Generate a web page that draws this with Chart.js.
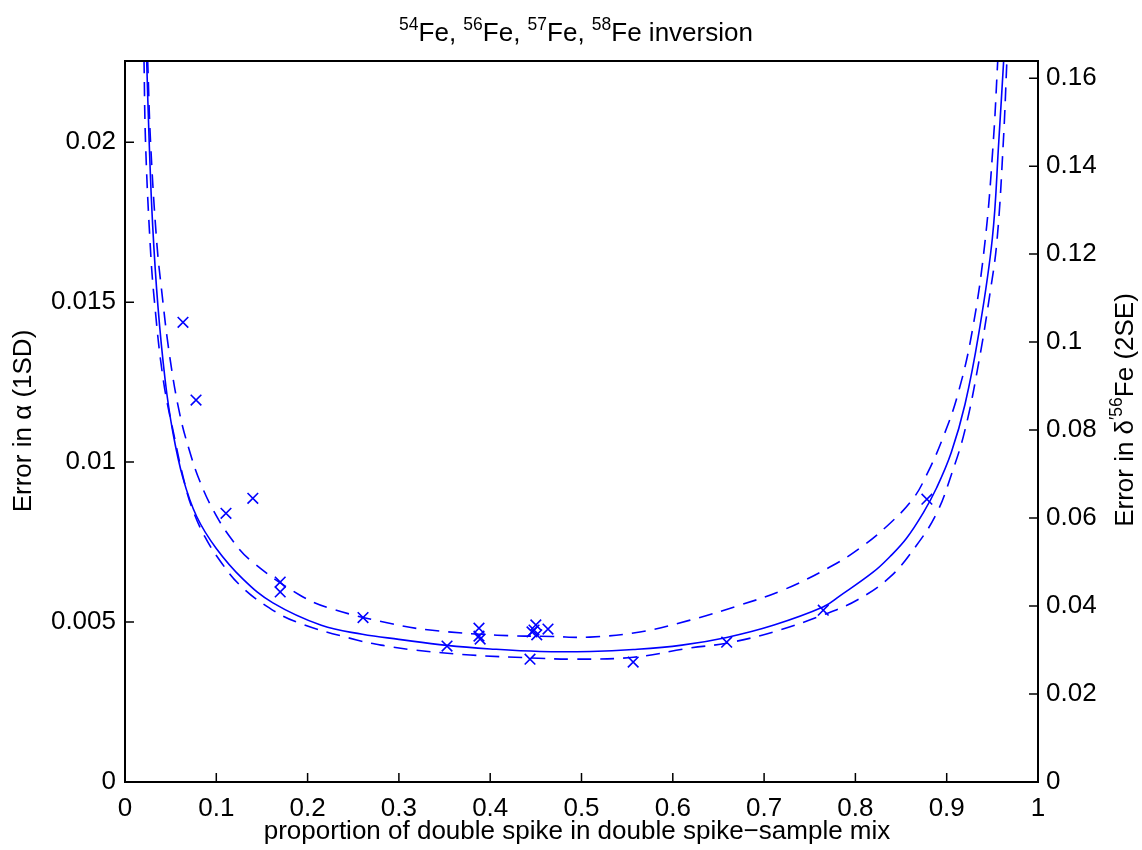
<!DOCTYPE html>
<html>
<head>
<meta charset="utf-8">
<script src="https://cdn.jsdelivr.net/npm/chart.js@4.4.1/dist/chart.umd.min.js"></script>
<style>
html, body { margin: 0; background: #fff; }
</style>
</head>
<body>
<canvas id="ironChart" width="1142" height="850"></canvas>
<script>
// tick values
var xTicks = [0, 0.1, 0.2, 0.3, 0.4, 0.5, 0.6, 0.7, 0.8, 0.9, 1];
var alphaTicks = [0, 0.005, 0.01, 0.015, 0.02];
var deltaTicks = [0, 0.02, 0.04, 0.06, 0.08, 0.1, 0.12, 0.14, 0.16];
var alphaMax = 0.02254;
var deltaMax = 0.1639;

// measured points (x marks)
var measP = [0.0635, 0.0778, 0.1106, 0.140, 0.170, 0.170, 0.2607, 0.3527, 0.3877, 0.3877, 0.3890,
             0.4436, 0.4458, 0.4500, 0.4510, 0.4480, 0.4633, 0.5566, 0.659, 0.7648, 0.8783];
var measErr = [0.01437, 0.01194, 0.0084, 0.00887, 0.00625, 0.00594, 0.00514, 0.00425, 0.00481, 0.00456, 0.00447,
               0.00384, 0.00469, 0.00491, 0.00460, 0.00475, 0.00478, 0.00375, 0.00437, 0.00537, 0.00884];

// predicted error (solid)
var fitP = [0.0237, 0.0265, 0.0303, 0.036, 0.044, 0.052, 0.0635, 0.0785, 0.100, 0.129, 0.162,
            0.215, 0.26, 0.30, 0.3527, 0.40, 0.4545, 0.51, 0.5566, 0.61, 0.659, 0.71, 0.7645,
            0.783, 0.819, 0.838, 0.856, 0.874, 0.889, 0.905, 0.92, 0.935, 0.95, 0.957, 0.9625];
var fitErr = [0.0226, 0.0200, 0.0174, 0.0149, 0.01256, 0.0110, 0.0095, 0.0083, 0.0073, 0.00635, 0.0056,
              0.0049, 0.00462, 0.00446, 0.00427, 0.00416, 0.00408, 0.00408, 0.00414, 0.00428, 0.00452, 0.0049, 0.00547,
              0.00582, 0.00655, 0.00705, 0.00762, 0.0084, 0.0092, 0.0103, 0.0118, 0.0140, 0.0170, 0.0200, 0.0226];

// upper bound (dashed)
var upP = [0.0248, 0.028, 0.0347, 0.040, 0.049, 0.060, 0.0712, 0.082, 0.0966, 0.115, 0.137, 0.1917,
           0.228, 0.2935, 0.334, 0.4075, 0.468, 0.509, 0.564, 0.619, 0.6736, 0.7207, 0.772, 0.805,
           0.838, 0.863, 0.878, 0.895, 0.912, 0.928, 0.942, 0.951, 0.956];
var upErr = [0.0226, 0.0200, 0.0169, 0.0154, 0.0133, 0.0115, 0.0103, 0.0094, 0.0085, 0.00766, 0.00694, 0.00584,
             0.0054, 0.00494, 0.00475, 0.00459, 0.00455, 0.00453, 0.00469, 0.00506, 0.00553, 0.006, 0.00672, 0.00731,
             0.00809, 0.00885, 0.0096, 0.0107, 0.0121, 0.0141, 0.0169, 0.0200, 0.0226];

// lower bound (dashed)
var loP = [0.0208, 0.0225, 0.0274, 0.0320, 0.042, 0.0548, 0.0637, 0.073, 0.0876, 0.106, 0.126, 0.155,
           0.188, 0.2537, 0.2866, 0.316, 0.378, 0.444, 0.491, 0.5566, 0.619, 0.659, 0.71, 0.7645,
           0.802, 0.838, 0.867, 0.889, 0.905, 0.92, 0.935, 0.947, 0.955, 0.962, 0.966];
var loErr = [0.0226, 0.0200, 0.0169, 0.0151, 0.01256, 0.01069, 0.00953, 0.0086, 0.00766, 0.00684, 0.00615, 0.0055,
             0.005, 0.00444, 0.00425, 0.00413, 0.00397, 0.00388, 0.00384, 0.0039, 0.00419, 0.00434, 0.00469, 0.00522,
             0.00569, 0.00641, 0.0074, 0.0084, 0.0096, 0.0110, 0.0131, 0.0152, 0.0169, 0.0200, 0.0226];

var FONT = '"Liberation Sans", Arial, Helvetica, sans-serif';
var BLUE = '#0000ff';

function pts(xs, ys) {
  return xs.map(function (x, i) { return { x: x, y: ys[i] }; });
}
function fmt(v) {
  return String(+(+v).toFixed(4));
}
function fixTicks(list) {
  return function (scale) { scale.ticks = list.map(function (v) { return { value: v }; }); };
}

// draws text with superscript parts, centred on (cx, baseline) and optionally rotated
function drawRich(ctx, parts, cx, baseY, rot) {
  var main = '26px ' + FONT, sup = '17.5px ' + FONT;
  var w = 0;
  parts.forEach(function (p) {
    ctx.font = p[1] ? sup : main;
    w += ctx.measureText(p[0]).width;
  });
  ctx.save();
  ctx.translate(cx, baseY);
  ctx.rotate(rot || 0);
  ctx.fillStyle = '#000';
  ctx.textBaseline = 'alphabetic';
  ctx.textAlign = 'left';
  var x = -w / 2;
  parts.forEach(function (p) {
    ctx.font = p[1] ? sup : main;
    ctx.fillText(p[0], x, p[1] ? -11 : 0);
    x += ctx.measureText(p[0]).width;
  });
  ctx.restore();
}

var framePlugin = {
  id: 'frame',
  afterDraw: function (chart) {
    var ctx = chart.ctx, a = chart.chartArea;
    var sx = chart.scales.x, sy = chart.scales.y, sy2 = chart.scales.y2;
    ctx.save();
    ctx.strokeStyle = '#000';
    ctx.lineWidth = 2;
    ctx.strokeRect(a.left, a.top, a.right - a.left, a.bottom - a.top);
    ctx.lineWidth = 1.5;
    ctx.beginPath();
    xTicks.forEach(function (v) {
      var px = sx.getPixelForValue(v);
      ctx.moveTo(px, a.bottom); ctx.lineTo(px, a.bottom - 9);
    });
    alphaTicks.forEach(function (v) {
      var py = sy.getPixelForValue(v);
      ctx.moveTo(a.left, py); ctx.lineTo(a.left + 9, py);
    });
    deltaTicks.forEach(function (v) {
      var py = sy2.getPixelForValue(v);
      ctx.moveTo(a.right, py); ctx.lineTo(a.right - 9, py);
    });
    ctx.stroke();
    ctx.restore();

    drawRich(ctx, [['54', 1], ['Fe, ', 0], ['56', 1], ['Fe, ', 0], ['57', 1], ['Fe, ', 0], ['58', 1], ['Fe inversion', 0]],
      576, 41, 0);
    drawRich(ctx, [['proportion of double spike in double spike\u2212sample mix', 0]], 577, 839, 0);
    drawRich(ctx, [['Error in \u03b1 (1SD)', 0]], 31, 421, -Math.PI / 2);
    drawRich(ctx, [['Error in \u03b4', 0], ['\u203256', 1], ['Fe (2SE)', 0]], 1133, 410, -Math.PI / 2);
  }
};

var tickFont = { family: FONT, size: 26 };

var ctx = document.getElementById('ironChart').getContext('2d');
var chart = new Chart(ctx, {
  type: 'scatter',
  data: {
    datasets: [
      { data: pts(fitP, fitErr), showLine: true, pointRadius: 0, borderColor: BLUE, borderWidth: 1.6,
        tension: 0.4, fill: false },
      { data: pts(upP, upErr), showLine: true, pointRadius: 0, borderColor: BLUE, borderWidth: 1.6,
        borderDash: [14, 9], tension: 0.4, fill: false },
      { data: pts(loP, loErr), showLine: true, pointRadius: 0, borderColor: BLUE, borderWidth: 1.6,
        borderDash: [14, 9], tension: 0.4, fill: false },
      { data: pts(measP, measErr), showLine: false, pointStyle: 'crossRot', pointRadius: 7.5,
        borderColor: BLUE, backgroundColor: BLUE, pointBorderWidth: 1.6 }
    ]
  },
  options: {
    responsive: false,
    animation: false,
    layout: { padding: { top: 61, left: 0, right: 0, bottom: 0 } },
    plugins: { legend: { display: false }, tooltip: { enabled: false } },
    scales: {
      x: {
        type: 'linear', min: 0, max: 1,
        grid: { display: false, drawTicks: false }, border: { display: false },
        afterBuildTicks: fixTicks(xTicks),
        afterFit: function (s) { s.height = 68; },
        ticks: { padding: 11, color: '#000', font: tickFont, maxRotation: 0, autoSkip: false, callback: fmt }
      },
      y: {
        position: 'left', min: 0, max: alphaMax,
        grid: { display: false, drawTicks: false }, border: { display: false },
        afterBuildTicks: fixTicks(alphaTicks),
        afterFit: function (s) { s.width = 125; },
        ticks: { padding: 9, color: '#000', font: tickFont, autoSkip: false, callback: fmt }
      },
      y2: {
        position: 'right', min: 0, max: deltaMax,
        grid: { display: false, drawTicks: false }, border: { display: false },
        afterBuildTicks: fixTicks(deltaTicks),
        afterFit: function (s) { s.width = 104; },
        ticks: { padding: 8, color: '#000', font: tickFont, autoSkip: false, callback: fmt }
      }
    }
  },
  plugins: [framePlugin]
});
</script>
</body>
</html>
